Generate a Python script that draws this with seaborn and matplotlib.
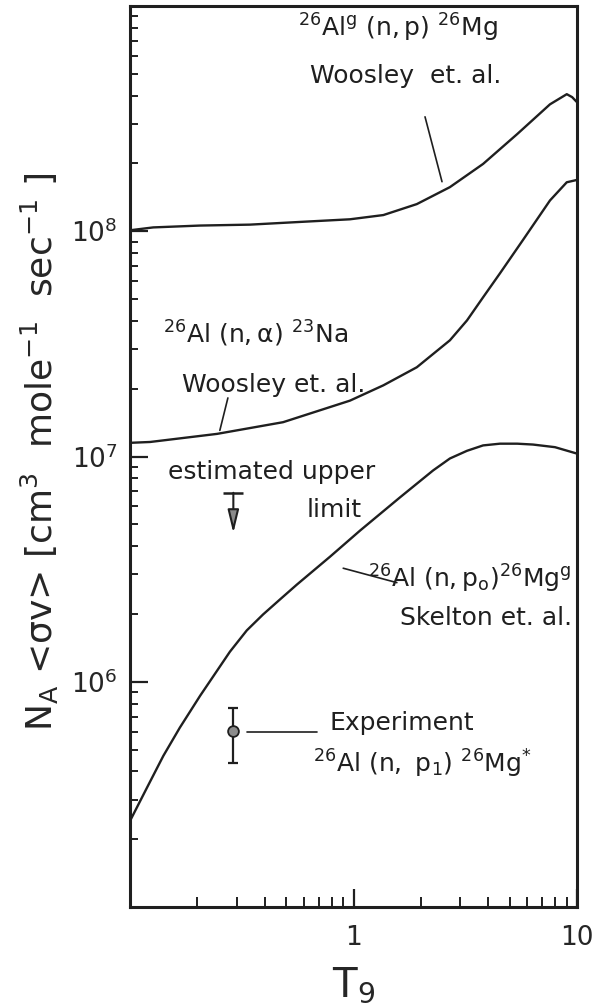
import matplotlib
matplotlib.use("Agg")
import matplotlib.pyplot as plt
import matplotlib.ticker as mticker
import matplotlib.transforms as mtransforms
import pandas as pd
import seaborn as sns

# 26Al^g(n,p)26Mg rate, Woosley et al.
np_T = [0.100, 0.127, 0.206, 0.344, 0.577, 0.964, 1.36, 1.92, 2.70, 3.80, 5.40, 7.57, 9.00, 9.51, 10.0]
np_rate = [1.01e8, 1.04e8, 1.06e8, 1.07e8, 1.10e8, 1.13e8, 1.18e8, 1.32e8, 1.57e8, 1.99e8,
           2.70e8, 3.66e8, 4.06e8, 3.94e8, 3.74e8]

# 26Al(n,alpha)23Na rate, Woosley et al.
na_T = [0.100, 0.123, 0.245, 0.484, 0.964, 1.36, 1.92, 2.70, 3.22, 3.80, 4.52, 5.72, 7.57, 9.00, 10.0]
na_rate = [1.15e7, 1.16e7, 1.26e7, 1.42e7, 1.77e7, 2.07e7, 2.49e7, 3.28e7, 4.02e7, 5.09e7,
           6.50e7, 9.12e7, 1.37e8, 1.65e8, 1.69e8]

# 26Al(n,p0)26Mg^g rate, Skelton et al.
p0_T = [0.100, 0.119, 0.141, 0.167, 0.206, 0.280, 0.333, 0.394, 0.469, 0.558, 0.785, 1.07,
        1.61, 2.27, 2.70, 3.22, 3.80, 4.52, 5.40, 6.35, 7.97, 10.0]
p0_rate = [2.41e5, 3.38e5, 4.69e5, 6.25e5, 8.67e5, 1.36e6, 1.69e6, 1.99e6, 2.32e6, 2.70e6,
           3.59e6, 4.69e6, 6.57e6, 8.67e6, 9.80e6, 1.06e7, 1.12e7, 1.14e7, 1.14e7, 1.13e7,
           1.10e7, 1.03e7]

# estimated upper limit
limit_T = 0.29
limit_rate = 6.9e6

# measured 26Al(n,p1)26Mg* rate with its error bar
exp_T = 0.29
exp_rate = 6.05e5
exp_low = 4.37e5
exp_high = 7.65e5

x_ticks = [1, 10]
x_ticklabels = ["1", "10"]
y_ticks = [1e6, 1e7, 1e8]
y_ticklabels = [r"$\mathregular{10^{6}}$", r"$\mathregular{10^{7}}$", r"$\mathregular{10^{8}}$"]

INK = "#1f1f1f"

sns.set_theme(style="white")
plt.rcParams["font.family"] = ["DejaVu Sans"]
plt.rcParams["mathtext.fontset"] = "custom"
plt.rcParams["mathtext.rm"] = "DejaVu Sans"
plt.rcParams["mathtext.it"] = "DejaVu Sans:italic"
plt.rcParams["mathtext.bf"] = "DejaVu Sans:bold"
plt.rcParams["text.color"] = INK

fig = plt.figure(figsize=(5.92, 10.06), dpi=100)
ax = fig.add_axes([130 / 592, 1 - 907 / 1006, 447 / 592, 901 / 1006])
ax.set_xscale("log")
ax.set_yscale("log")

curves = [(np_T, np_rate), (na_T, na_rate), (p0_T, p0_rate)]
for T, rate in curves:
    df = pd.DataFrame({"T9": T, "rate": rate})
    sns.lineplot(data=df, x="T9", y="rate", ax=ax, color=INK, lw=1.7,
                 sort=False, estimator=None)

# upper limit: bar with a downward arrow
ax.plot([limit_T], [limit_rate], marker="_", ms=14, mew=1.8, color=INK, ls="none")
tip = mtransforms.offset_copy(ax.transData, fig=fig, y=-29, units="points")
ax.annotate("", xy=(limit_T, limit_rate), xycoords=tip,
            xytext=(limit_T, limit_rate), textcoords="data",
            arrowprops=dict(arrowstyle="-|>,head_length=0.7,head_width=0.17",
                            mutation_scale=20, lw=1.5, color=INK, fc="#8a8a8a",
                            shrinkA=0, shrinkB=0))

# experimental point
ax.errorbar([exp_T], [exp_rate], yerr=[[exp_rate - exp_low], [exp_high - exp_rate]],
            fmt="none", ecolor=INK, elinewidth=1.6, capsize=3.5, capthick=1.6)
sns.scatterplot(x=[exp_T], y=[exp_rate], ax=ax, s=60, color="#8c8c8c",
                edgecolor=INK, linewidth=1.3, zorder=5)

ax.set_xlim(0.1, 10)
ax.set_ylim(1e5, 1e9)

ax.set_xticks(x_ticks)
ax.set_xticklabels(x_ticklabels)
ax.xaxis.set_minor_locator(mticker.LogLocator(base=10, subs=range(2, 10)))
ax.xaxis.set_minor_formatter(mticker.NullFormatter())
ax.set_yticks(y_ticks)
ax.set_yticklabels(y_ticklabels)
ax.yaxis.set_minor_locator(mticker.LogLocator(base=10, subs=range(2, 10), numticks=20))
ax.yaxis.set_minor_formatter(mticker.NullFormatter())

ax.tick_params(axis="both", which="both", direction="in", color=INK,
               bottom=True, left=True, top=False, right=False)
ax.tick_params(axis="both", which="major", length=13, width=1.6, labelsize=19)
ax.tick_params(axis="y", which="minor", length=6, width=1.4)
ax.tick_params(axis="x", which="minor", length=7, width=1.4)
ax.tick_params(axis="y", which="major", pad=9)
ax.tick_params(axis="x", which="major", pad=13)

for sp in ax.spines.values():
    sp.set_visible(True)
    sp.set_color(INK)
    sp.set_linewidth(2.2)

ax.set_xlabel(r"T$_\mathregular{9}$", fontsize=29, labelpad=10)
ax.set_ylabel(r"N$_\mathregular{A}$ <σv> [cm$^\mathregular{3}$  mole$^\mathregular{-1}$  "
              r"sec$^\mathregular{-1}$ ]", fontsize=26)
ax.yaxis.set_label_coords(-0.155, 0.505)

tsize = 18
labels = [
    (0.376, 0.966, "left", r"$\mathregular{^{26}Al^{g}\ (n,p)\ ^{26}Mg}$"),
    (0.403, 0.915, "left", "Woosley  et. al."),
    (0.074, 0.626, "left", r"$\mathregular{^{26}Al\ (n,α)\ ^{23}Na}$"),
    (0.116, 0.572, "left", "Woosley et. al."),
    (0.085, 0.475, "left", "estimated upper"),
    (0.396, 0.433, "left", "limit"),
    (0.988, 0.355, "right", r"$\mathregular{^{26}Al\ (n,p_o)^{26}Mg^{g}}$"),
    (0.988, 0.313, "right", "Skelton et. al."),
    (0.447, 0.196, "left", "Experiment"),
    (0.409, 0.149, "left", r"$\mathregular{^{26}Al\ (n,\ p_1)\ ^{26}Mg^{*}}$"),
]
for x, y, ha, s in labels:
    ax.text(x, y, s, transform=ax.transAxes, fontsize=tsize, ha=ha, va="baseline")

# leader lines from the labels to their curves
leaders = [
    ((0.660, 0.877), (0.698, 0.805)),
    ((0.219, 0.565), (0.201, 0.529)),
    ((0.477, 0.376), (0.597, 0.360)),
    ((0.262, 0.194), (0.418, 0.194)),
]
for (x0, y0), (x1, y1) in leaders:
    ax.plot([x0, x1], [y0, y1], transform=ax.transAxes, color=INK, lw=1.2)

fig.savefig("out.png", dpi=100)
